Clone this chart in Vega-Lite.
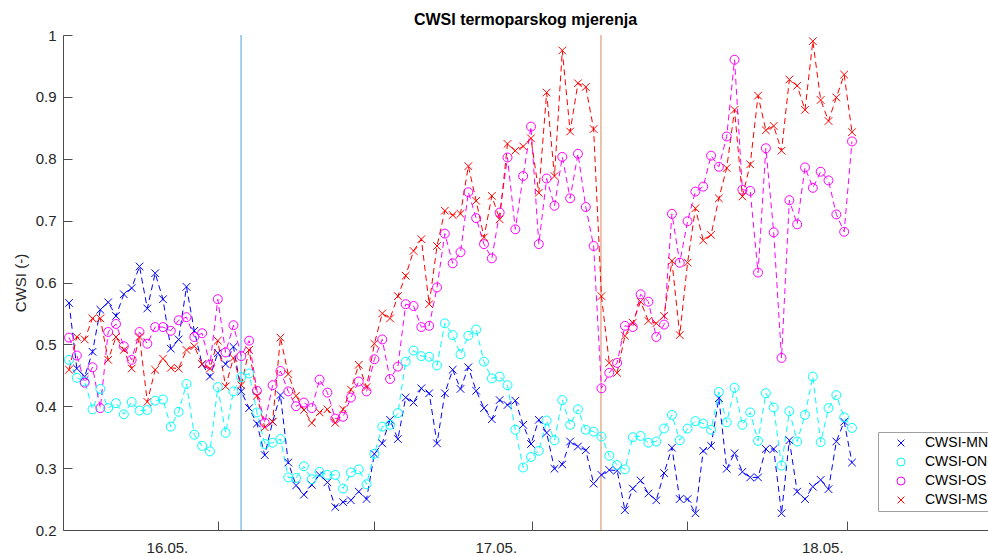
{
  "$schema": "https://vega.github.io/schema/vega-lite/v6.json",
  "width": 925,
  "height": 495,
  "autosize": {"type": "none"},
  "padding": {"left": 63, "top": 35, "right": 0, "bottom": 26},
  "background": "white",
  "config": {
    "view": {"stroke": null},
    "font": "Liberation Sans",
    "axis": {"grid": false, "domainColor": "#4d4d4d", "tickColor": "#4d4d4d", "labelColor": "#262626", "titleColor": "#262626", "labelFont": "Liberation Sans", "titleFont": "Liberation Sans", "labelFontSize": 15, "titleFontSize": 15, "titleFontWeight": "normal", "tickSize": -9, "ticks": true},
    "line": {"strokeDash": [6, 4], "strokeWidth": 1}
  },
  "title": {"text": "CWSI termoparskog mjerenja", "fontSize": 16, "fontWeight": "bold", "font": "Liberation Sans", "color": "#000000", "anchor": "middle", "offset": 0},
  "datasets": {
    "cwsi": [
      {"i":0,"CWSI-MN":0.567,"CWSI-ON":0.475,"CWSI-OS":0.511,"CWSI-MS":0.459},
      {"i":1,"CWSI-MN":0.461,"CWSI-ON":0.446,"CWSI-OS":0.482,"CWSI-MS":0.512},
      {"i":2,"CWSI-MN":0.448,"CWSI-ON":0.440,"CWSI-OS":0.438,"CWSI-MS":0.508},
      {"i":3,"CWSI-MN":0.488,"CWSI-ON":0.395,"CWSI-OS":0.463,"CWSI-MS":0.542},
      {"i":4,"CWSI-MN":0.556,"CWSI-ON":0.428,"CWSI-OS":0.397,"CWSI-MS":0.542},
      {"i":5,"CWSI-MN":0.568,"CWSI-ON":0.397,"CWSI-OS":0.520,"CWSI-MS":0.475},
      {"i":6,"CWSI-MN":0.546,"CWSI-ON":0.405,"CWSI-OS":0.533,"CWSI-MS":0.512},
      {"i":7,"CWSI-MN":0.581,"CWSI-ON":0.387,"CWSI-OS":0.497,"CWSI-MS":0.491},
      {"i":8,"CWSI-MN":0.591,"CWSI-ON":0.407,"CWSI-OS":0.475,"CWSI-MS":0.461},
      {"i":9,"CWSI-MN":0.626,"CWSI-ON":0.393,"CWSI-OS":0.520,"CWSI-MS":0.512},
      {"i":10,"CWSI-MN":0.558,"CWSI-ON":0.394,"CWSI-OS":0.501,"CWSI-MS":0.407},
      {"i":11,"CWSI-MN":0.615,"CWSI-ON":0.409,"CWSI-OS":0.528,"CWSI-MS":0.459},
      {"i":12,"CWSI-MN":0.573,"CWSI-ON":0.411,"CWSI-OS":0.528,"CWSI-MS":0.477},
      {"i":13,"CWSI-MN":0.493,"CWSI-ON":0.367,"CWSI-OS":0.522,"CWSI-MS":0.462},
      {"i":14,"CWSI-MN":0.508,"CWSI-ON":0.391,"CWSI-OS":0.539,"CWSI-MS":0.461},
      {"i":15,"CWSI-MN":0.593,"CWSI-ON":0.436,"CWSI-OS":0.544,"CWSI-MS":0.491},
      {"i":16,"CWSI-MN":0.522,"CWSI-ON":0.354,"CWSI-OS":0.512,"CWSI-MS":0.497},
      {"i":17,"CWSI-MN":0.468,"CWSI-ON":0.336,"CWSI-OS":0.518,"CWSI-MS":0.468},
      {"i":18,"CWSI-MN":0.448,"CWSI-ON":0.327,"CWSI-OS":0.467,"CWSI-MS":0.461},
      {"i":19,"CWSI-MN":0.486,"CWSI-ON":0.431,"CWSI-OS":0.573,"CWSI-MS":0.506},
      {"i":20,"CWSI-MN":0.468,"CWSI-ON":0.357,"CWSI-OS":0.487,"CWSI-MS":0.432},
      {"i":21,"CWSI-MN":0.496,"CWSI-ON":0.424,"CWSI-OS":0.531,"CWSI-MS":0.478},
      {"i":22,"CWSI-MN":0.424,"CWSI-ON":0.447,"CWSI-OS":0.481,"CWSI-MS":0.434},
      {"i":23,"CWSI-MN":0.397,"CWSI-ON":0.453,"CWSI-OS":0.506,"CWSI-MS":0.491},
      {"i":24,"CWSI-MN":0.372,"CWSI-ON":0.390,"CWSI-OS":0.425,"CWSI-MS":0.417},
      {"i":25,"CWSI-MN":0.321,"CWSI-ON":0.339,"CWSI-OS":0.373,"CWSI-MS":0.366},
      {"i":26,"CWSI-MN":0.375,"CWSI-ON":0.341,"CWSI-OS":0.434,"CWSI-MS":0.375},
      {"i":27,"CWSI-MN":0.418,"CWSI-ON":0.347,"CWSI-OS":0.457,"CWSI-MS":0.511},
      {"i":28,"CWSI-MN":0.309,"CWSI-ON":0.285,"CWSI-OS":0.424,"CWSI-MS":0.452},
      {"i":29,"CWSI-MN":0.272,"CWSI-ON":0.284,"CWSI-OS":0.400,"CWSI-MS":0.417},
      {"i":30,"CWSI-MN":0.257,"CWSI-ON":0.303,"CWSI-OS":0.406,"CWSI-MS":0.394},
      {"i":31,"CWSI-MN":0.273,"CWSI-ON":0.282,"CWSI-OS":0.397,"CWSI-MS":0.373},
      {"i":32,"CWSI-MN":0.289,"CWSI-ON":0.294,"CWSI-OS":0.443,"CWSI-MS":0.390},
      {"i":33,"CWSI-MN":0.277,"CWSI-ON":0.289,"CWSI-OS":0.422,"CWSI-MS":0.395},
      {"i":34,"CWSI-MN":0.237,"CWSI-ON":0.289,"CWSI-OS":0.380,"CWSI-MS":0.373},
      {"i":35,"CWSI-MN":0.245,"CWSI-ON":0.267,"CWSI-OS":0.383,"CWSI-MS":0.395},
      {"i":36,"CWSI-MN":0.248,"CWSI-ON":0.293,"CWSI-OS":0.414,"CWSI-MS":0.427},
      {"i":37,"CWSI-MN":0.262,"CWSI-ON":0.298,"CWSI-OS":0.440,"CWSI-MS":0.467},
      {"i":38,"CWSI-MN":0.250,"CWSI-ON":0.274,"CWSI-OS":0.424,"CWSI-MS":0.431},
      {"i":39,"CWSI-MN":0.323,"CWSI-ON":0.323,"CWSI-OS":0.476,"CWSI-MS":0.501},
      {"i":40,"CWSI-MN":0.340,"CWSI-ON":0.367,"CWSI-OS":0.508,"CWSI-MS":0.550},
      {"i":41,"CWSI-MN":0.378,"CWSI-ON":0.370,"CWSI-OS":0.444,"CWSI-MS":0.542},
      {"i":42,"CWSI-MN":0.347,"CWSI-ON":0.389,"CWSI-OS":0.464,"CWSI-MS":0.578},
      {"i":43,"CWSI-MN":0.414,"CWSI-ON":0.472,"CWSI-OS":0.565,"CWSI-MS":0.611},
      {"i":44,"CWSI-MN":0.406,"CWSI-ON":0.490,"CWSI-OS":0.562,"CWSI-MS":0.651},
      {"i":45,"CWSI-MN":0.429,"CWSI-ON":0.481,"CWSI-OS":0.528,"CWSI-MS":0.670},
      {"i":46,"CWSI-MN":0.421,"CWSI-ON":0.480,"CWSI-OS":0.530,"CWSI-MS":0.565},
      {"i":47,"CWSI-MN":0.340,"CWSI-ON":0.466,"CWSI-OS":0.592,"CWSI-MS":0.659},
      {"i":48,"CWSI-MN":0.421,"CWSI-ON":0.534,"CWSI-OS":0.679,"CWSI-MS":0.716},
      {"i":49,"CWSI-MN":0.459,"CWSI-ON":0.515,"CWSI-OS":0.631,"CWSI-MS":0.709},
      {"i":50,"CWSI-MN":0.428,"CWSI-ON":0.484,"CWSI-OS":0.649,"CWSI-MS":0.711},
      {"i":51,"CWSI-MN":0.463,"CWSI-ON":0.514,"CWSI-OS":0.746,"CWSI-MS":0.788},
      {"i":52,"CWSI-MN":0.425,"CWSI-ON":0.524,"CWSI-OS":0.704,"CWSI-MS":0.732},
      {"i":53,"CWSI-MN":0.397,"CWSI-ON":0.472,"CWSI-OS":0.662,"CWSI-MS":0.673},
      {"i":54,"CWSI-MN":0.379,"CWSI-ON":0.445,"CWSI-OS":0.639,"CWSI-MS":0.740},
      {"i":55,"CWSI-MN":0.410,"CWSI-ON":0.448,"CWSI-OS":0.713,"CWSI-MS":0.702},
      {"i":56,"CWSI-MN":0.402,"CWSI-ON":0.434,"CWSI-OS":0.802,"CWSI-MS":0.824},
      {"i":57,"CWSI-MN":0.409,"CWSI-ON":0.362,"CWSI-OS":0.686,"CWSI-MS":0.813},
      {"i":58,"CWSI-MN":0.370,"CWSI-ON":0.301,"CWSI-OS":0.772,"CWSI-MS":0.820},
      {"i":59,"CWSI-MN":0.339,"CWSI-ON":0.318,"CWSI-OS":0.852,"CWSI-MS":0.833},
      {"i":60,"CWSI-MN":0.378,"CWSI-ON":0.328,"CWSI-OS":0.662,"CWSI-MS":0.745},
      {"i":61,"CWSI-MN":0.357,"CWSI-ON":0.377,"CWSI-OS":0.768,"CWSI-MS":0.907},
      {"i":62,"CWSI-MN":0.299,"CWSI-ON":0.345,"CWSI-OS":0.724,"CWSI-MS":0.772},
      {"i":63,"CWSI-MN":0.306,"CWSI-ON":0.410,"CWSI-OS":0.803,"CWSI-MS":0.975},
      {"i":64,"CWSI-MN":0.343,"CWSI-ON":0.370,"CWSI-OS":0.736,"CWSI-MS":0.844},
      {"i":65,"CWSI-MN":0.335,"CWSI-ON":0.395,"CWSI-OS":0.808,"CWSI-MS":0.922},
      {"i":66,"CWSI-MN":0.329,"CWSI-ON":0.362,"CWSI-OS":0.722,"CWSI-MS":0.916},
      {"i":67,"CWSI-MN":0.275,"CWSI-ON":0.359,"CWSI-OS":0.659,"CWSI-MS":0.848},
      {"i":68,"CWSI-MN":0.289,"CWSI-ON":0.351,"CWSI-OS":0.429,"CWSI-MS":0.578},
      {"i":69,"CWSI-MN":0.297,"CWSI-ON":0.320,"CWSI-OS":0.454,"CWSI-MS":0.470},
      {"i":70,"CWSI-MN":0.296,"CWSI-ON":0.305,"CWSI-OS":0.470,"CWSI-MS":0.454},
      {"i":71,"CWSI-MN":0.232,"CWSI-ON":0.298,"CWSI-OS":0.530,"CWSI-MS":0.514},
      {"i":72,"CWSI-MN":0.267,"CWSI-ON":0.350,"CWSI-OS":0.528,"CWSI-MS":0.535},
      {"i":73,"CWSI-MN":0.280,"CWSI-ON":0.352,"CWSI-OS":0.581,"CWSI-MS":0.569},
      {"i":74,"CWSI-MN":0.259,"CWSI-ON":0.341,"CWSI-OS":0.569,"CWSI-MS":0.538},
      {"i":75,"CWSI-MN":0.248,"CWSI-ON":0.343,"CWSI-OS":0.512,"CWSI-MS":0.534},
      {"i":76,"CWSI-MN":0.292,"CWSI-ON":0.364,"CWSI-OS":0.532,"CWSI-MS":0.546},
      {"i":77,"CWSI-MN":0.333,"CWSI-ON":0.386,"CWSI-OS":0.711,"CWSI-MS":0.635},
      {"i":78,"CWSI-MN":0.250,"CWSI-ON":0.345,"CWSI-OS":0.632,"CWSI-MS":0.515},
      {"i":79,"CWSI-MN":0.250,"CWSI-ON":0.364,"CWSI-OS":0.699,"CWSI-MS":0.632},
      {"i":80,"CWSI-MN":0.227,"CWSI-ON":0.376,"CWSI-OS":0.747,"CWSI-MS":0.720},
      {"i":81,"CWSI-MN":0.328,"CWSI-ON":0.372,"CWSI-OS":0.755,"CWSI-MS":0.668},
      {"i":82,"CWSI-MN":0.336,"CWSI-ON":0.362,"CWSI-OS":0.805,"CWSI-MS":0.677},
      {"i":83,"CWSI-MN":0.413,"CWSI-ON":0.423,"CWSI-OS":0.787,"CWSI-MS":0.736},
      {"i":84,"CWSI-MN":0.299,"CWSI-ON":0.374,"CWSI-OS":0.836,"CWSI-MS":0.785},
      {"i":85,"CWSI-MN":0.324,"CWSI-ON":0.430,"CWSI-OS":0.960,"CWSI-MS":0.879},
      {"i":86,"CWSI-MN":0.294,"CWSI-ON":0.370,"CWSI-OS":0.750,"CWSI-MS":0.739},
      {"i":87,"CWSI-MN":0.285,"CWSI-ON":0.390,"CWSI-OS":0.748,"CWSI-MS":0.791},
      {"i":88,"CWSI-MN":0.285,"CWSI-ON":0.344,"CWSI-OS":0.616,"CWSI-MS":0.902},
      {"i":89,"CWSI-MN":0.331,"CWSI-ON":0.421,"CWSI-OS":0.817,"CWSI-MS":0.846},
      {"i":90,"CWSI-MN":0.331,"CWSI-ON":0.398,"CWSI-OS":0.681,"CWSI-MS":0.853},
      {"i":91,"CWSI-MN":0.227,"CWSI-ON":0.304,"CWSI-OS":0.478,"CWSI-MS":0.813},
      {"i":92,"CWSI-MN":0.345,"CWSI-ON":0.392,"CWSI-OS":0.733,"CWSI-MS":0.928},
      {"i":93,"CWSI-MN":0.262,"CWSI-ON":0.343,"CWSI-OS":0.694,"CWSI-MS":0.918},
      {"i":94,"CWSI-MN":0.250,"CWSI-ON":0.386,"CWSI-OS":0.786,"CWSI-MS":0.879},
      {"i":95,"CWSI-MN":0.270,"CWSI-ON":0.448,"CWSI-OS":0.753,"CWSI-MS":0.990},
      {"i":96,"CWSI-MN":0.281,"CWSI-ON":0.342,"CWSI-OS":0.779,"CWSI-MS":0.895},
      {"i":97,"CWSI-MN":0.266,"CWSI-ON":0.397,"CWSI-OS":0.765,"CWSI-MS":0.861},
      {"i":98,"CWSI-MN":0.343,"CWSI-ON":0.418,"CWSI-OS":0.710,"CWSI-MS":0.899},
      {"i":99,"CWSI-MN":0.375,"CWSI-ON":0.382,"CWSI-OS":0.682,"CWSI-MS":0.936},
      {"i":100,"CWSI-MN":0.309,"CWSI-ON":0.365,"CWSI-OS":0.828,"CWSI-MS":0.843}
    ]
  },
  "layer": [
    {
      "data": {"values": [{"i": 21.97}]},
      "mark": {"type": "rule", "color": "#4fa0d8", "strokeWidth": 1},
      "encoding": {
        "x": {"field": "i", "type": "quantitative", "scale": {"domain": [-0.77, 117.37], "nice": false, "zero": false},
          "axis": {"title": null, "values": [12.5, 19.03, 38.95, 54.5, 59.13, 78.93, 96.2, 99.36], "labelExpr": "datum.value == 12.5 ? '16.05.' : datum.value == 54.5 ? '17.05.' : datum.value == 96.2 ? '18.05.' : ''", "tickOpacity": {"condition": {"test": "datum.value == 12.5 || datum.value == 54.5 || datum.value == 96.2", "value": 0}, "value": 1}, "labelOverlap": false, "labelFlush": false, "labelBound": false, "labelPadding": 19}}
      }
    },
    {
      "data": {"values": [{"i": 67.94}]},
      "mark": {"type": "rule", "color": "#d9875f", "strokeWidth": 1},
      "encoding": {
        "x": {"field": "i", "type": "quantitative", "scale": {"domain": [-0.77, 117.37], "nice": false, "zero": false},
          "axis": {"title": null, "values": [12.5, 19.03, 38.95, 54.5, 59.13, 78.93, 96.2, 99.36], "labelExpr": "datum.value == 12.5 ? '16.05.' : datum.value == 54.5 ? '17.05.' : datum.value == 96.2 ? '18.05.' : ''", "tickOpacity": {"condition": {"test": "datum.value == 12.5 || datum.value == 54.5 || datum.value == 96.2", "value": 0}, "value": 1}, "labelOverlap": false, "labelFlush": false, "labelBound": false, "labelPadding": 19}}
      }
    },
    {
      "data": {"name": "cwsi"},
      "mark": {"type": "line", "color": "#0000ff"},
      "encoding": {
        "x": {"field": "i", "type": "quantitative", "scale": {"domain": [-0.77, 117.37], "nice": false, "zero": false},
          "axis": {"title": null, "values": [12.5, 19.03, 38.95, 54.5, 59.13, 78.93, 96.2, 99.36], "labelExpr": "datum.value == 12.5 ? '16.05.' : datum.value == 54.5 ? '17.05.' : datum.value == 96.2 ? '18.05.' : ''", "tickOpacity": {"condition": {"test": "datum.value == 12.5 || datum.value == 54.5 || datum.value == 96.2", "value": 0}, "value": 1}, "labelOverlap": false, "labelFlush": false, "labelBound": false, "labelPadding": 19}},
        "y": {"field": "CWSI-MN", "type": "quantitative", "scale": {"domain": [0.2, 1], "nice": false, "zero": false},
          "axis": {"title": "CWSI (-)", "values": [0.2, 0.3, 0.4, 0.5, 0.6, 0.7, 0.8, 0.9, 1], "format": "~g", "labelPadding": 16, "titlePadding": 7}}
      }
    },
    {
      "data": {"name": "cwsi"},
      "mark": {"type": "line", "color": "#00ffff"},
      "encoding": {
        "x": {"field": "i", "type": "quantitative", "scale": {"domain": [-0.77, 117.37], "nice": false, "zero": false},
          "axis": {"title": null, "values": [12.5, 19.03, 38.95, 54.5, 59.13, 78.93, 96.2, 99.36], "labelExpr": "datum.value == 12.5 ? '16.05.' : datum.value == 54.5 ? '17.05.' : datum.value == 96.2 ? '18.05.' : ''", "tickOpacity": {"condition": {"test": "datum.value == 12.5 || datum.value == 54.5 || datum.value == 96.2", "value": 0}, "value": 1}, "labelOverlap": false, "labelFlush": false, "labelBound": false, "labelPadding": 19}},
        "y": {"field": "CWSI-ON", "type": "quantitative", "scale": {"domain": [0.2, 1], "nice": false, "zero": false},
          "axis": {"title": "CWSI (-)", "values": [0.2, 0.3, 0.4, 0.5, 0.6, 0.7, 0.8, 0.9, 1], "format": "~g", "labelPadding": 16, "titlePadding": 7}}
      }
    },
    {
      "data": {"name": "cwsi"},
      "mark": {"type": "line", "color": "#ff00ff"},
      "encoding": {
        "x": {"field": "i", "type": "quantitative", "scale": {"domain": [-0.77, 117.37], "nice": false, "zero": false},
          "axis": {"title": null, "values": [12.5, 19.03, 38.95, 54.5, 59.13, 78.93, 96.2, 99.36], "labelExpr": "datum.value == 12.5 ? '16.05.' : datum.value == 54.5 ? '17.05.' : datum.value == 96.2 ? '18.05.' : ''", "tickOpacity": {"condition": {"test": "datum.value == 12.5 || datum.value == 54.5 || datum.value == 96.2", "value": 0}, "value": 1}, "labelOverlap": false, "labelFlush": false, "labelBound": false, "labelPadding": 19}},
        "y": {"field": "CWSI-OS", "type": "quantitative", "scale": {"domain": [0.2, 1], "nice": false, "zero": false},
          "axis": {"title": "CWSI (-)", "values": [0.2, 0.3, 0.4, 0.5, 0.6, 0.7, 0.8, 0.9, 1], "format": "~g", "labelPadding": 16, "titlePadding": 7}}
      }
    },
    {
      "data": {"name": "cwsi"},
      "mark": {"type": "line", "color": "#ff0000"},
      "encoding": {
        "x": {"field": "i", "type": "quantitative", "scale": {"domain": [-0.77, 117.37], "nice": false, "zero": false},
          "axis": {"title": null, "values": [12.5, 19.03, 38.95, 54.5, 59.13, 78.93, 96.2, 99.36], "labelExpr": "datum.value == 12.5 ? '16.05.' : datum.value == 54.5 ? '17.05.' : datum.value == 96.2 ? '18.05.' : ''", "tickOpacity": {"condition": {"test": "datum.value == 12.5 || datum.value == 54.5 || datum.value == 96.2", "value": 0}, "value": 1}, "labelOverlap": false, "labelFlush": false, "labelBound": false, "labelPadding": 19}},
        "y": {"field": "CWSI-MS", "type": "quantitative", "scale": {"domain": [0.2, 1], "nice": false, "zero": false},
          "axis": {"title": "CWSI (-)", "values": [0.2, 0.3, 0.4, 0.5, 0.6, 0.7, 0.8, 0.9, 1], "format": "~g", "labelPadding": 16, "titlePadding": 7}}
      }
    },
    {
      "data": {"name": "cwsi"},
      "transform": [{"fold": ["CWSI-MN", "CWSI-ON", "CWSI-OS", "CWSI-MS"], "as": ["series", "v"]}],
      "mark": {"type": "point", "filled": false, "strokeWidth": 1, "opacity": 1, "size": 80},
      "encoding": {
        "x": {"field": "i", "type": "quantitative", "scale": {"domain": [-0.77, 117.37], "nice": false, "zero": false},
          "axis": {"title": null, "values": [12.5, 19.03, 38.95, 54.5, 59.13, 78.93, 96.2, 99.36], "labelExpr": "datum.value == 12.5 ? '16.05.' : datum.value == 54.5 ? '17.05.' : datum.value == 96.2 ? '18.05.' : ''", "tickOpacity": {"condition": {"test": "datum.value == 12.5 || datum.value == 54.5 || datum.value == 96.2", "value": 0}, "value": 1}, "labelOverlap": false, "labelFlush": false, "labelBound": false, "labelPadding": 19}},
        "y": {"field": "v", "type": "quantitative", "scale": {"domain": [0.2, 1], "nice": false, "zero": false},
          "axis": {"title": "CWSI (-)", "values": [0.2, 0.3, 0.4, 0.5, 0.6, 0.7, 0.8, 0.9, 1], "format": "~g", "labelPadding": 16, "titlePadding": 7}},
        "color": {"field": "series", "type": "nominal", "scale": {"domain": ["CWSI-MN", "CWSI-ON", "CWSI-OS", "CWSI-MS"], "range": ["#0000ff", "#00ffff", "#ff00ff", "#ff0000"]},
          "legend": {"title": null, "orient": "none", "legendX": 815, "legendY": 397, "fillColor": "white", "strokeColor": "#a0a0a0", "padding": 4, "symbolSize": 64, "symbolStrokeWidth": 1, "symbolOffset": 12, "labelOffset": 17, "rowPadding": 5, "labelFontSize": 14, "labelFont": "Liberation Sans", "labelColor": "#000000"}},
        "shape": {"field": "series", "type": "nominal", "scale": {"domain": ["CWSI-MN", "CWSI-ON", "CWSI-OS", "CWSI-MS"], "range": ["M-0.85,-0.85L0.85,0.85M-0.85,0.85L0.85,-0.85", "circle", "circle", "M-0.85,-0.85L0.85,0.85M-0.85,0.85L0.85,-0.85"]},
          "legend": {"title": null, "orient": "none", "legendX": 815, "legendY": 397, "fillColor": "white", "strokeColor": "#a0a0a0", "padding": 4, "symbolSize": 64, "symbolStrokeWidth": 1, "symbolOffset": 12, "labelOffset": 17, "rowPadding": 5, "labelFontSize": 14, "labelFont": "Liberation Sans", "labelColor": "#000000"}}
      }
    }
  ]
}
